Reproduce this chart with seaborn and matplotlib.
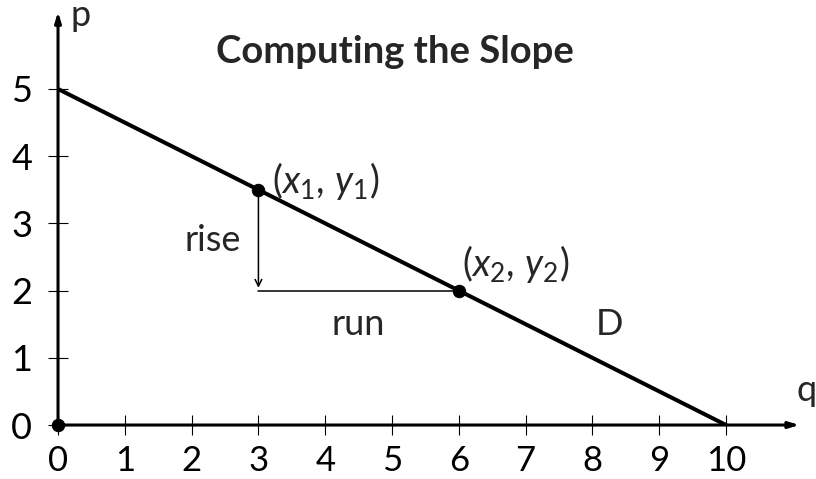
import numpy as np
import pandas as pd
import seaborn as sns
import matplotlib.pyplot as plt

# ======= Data =======
q_line = [0, 10]
p_line = [5, 0]
pt_q = [3, 6, 0]
pt_p = [3.5, 2, 0]
x_ticks = [0, 1, 2, 3, 4, 5, 6, 7, 8, 9, 10]
y_ticks = [0, 1, 2, 3, 4, 5]
title = "Computing the Slope"

sns.set_theme(style="white")
plt.rcParams['font.family'] = ['Lato', 'DejaVu Sans']
plt.rcParams['mathtext.fontset'] = 'custom'
plt.rcParams['mathtext.rm'] = 'Lato'
plt.rcParams['mathtext.it'] = 'Lato:italic'

fig = plt.figure(figsize=(8.16, 4.79), dpi=100)
ax = fig.add_axes([0.0711, 0.1127, 0.9087, 0.8629])

line_df = pd.DataFrame({"q": q_line, "p": p_line})
pts_df = pd.DataFrame({"q": pt_q, "p": pt_p})

sns.lineplot(data=line_df, x="q", y="p", color="black", linewidth=2.9, ax=ax)
sns.scatterplot(data=pts_df, x="q", y="p", color="black", s=80, zorder=5,
                edgecolor="black", ax=ax, clip_on=False)

# rise arrow and run line
ax.annotate("", xy=(pt_q[0], pt_p[1]), xytext=(pt_q[0], pt_p[0]),
            arrowprops=dict(arrowstyle="->", color="black", lw=1.1))
ax.plot([pt_q[0], pt_q[1]], [pt_p[1], pt_p[1]], color="black", lw=1.1)

ax.set_xlim(0, 11.1)
ax.set_ylim(0, 6.15)
for s in ax.spines.values():
    s.set_visible(False)

# axes with arrows
ax.annotate("", xy=(11.1, 0), xytext=(0, 0), annotation_clip=False,
            arrowprops=dict(arrowstyle="-|>,head_length=0.5,head_width=0.15",
                            color="black", lw=2.2, shrinkA=0, shrinkB=0))
ax.annotate("", xy=(0, 6.15), xytext=(0, 0), annotation_clip=False,
            arrowprops=dict(arrowstyle="-|>,head_length=0.5,head_width=0.15",
                            color="black", lw=2.2, shrinkA=0, shrinkB=0))

ax.set_xticks(x_ticks)
ax.set_yticks(y_ticks)
ax.set_xticklabels([str(t) for t in x_ticks])
ax.set_yticklabels([str(t) for t in y_ticks])
ax.tick_params(axis="x", direction="inout", length=15, width=0.8,
               colors="black", labelsize=25, pad=7, bottom=True)
ax.tick_params(axis="y", direction="inout", length=15, width=0.8,
               colors="black", labelsize=26, pad=11, left=True)
ax.set_xlabel("")
ax.set_ylabel("")

ax.text(0.18, 6.1, "p", fontsize=26, ha="left", va="center")
ax.text(11.06, 0.52, "q", fontsize=26, ha="left", va="center")
ax.text(5.05, 5.55, title, fontsize=27.5, fontweight="bold", ha="center", va="center")
ax.text(3.2, 3.63, r"$(x_1,\, y_1)$", fontsize=27, ha="left", va="center")
ax.text(6.05, 2.4, r"$(x_2,\, y_2)$", fontsize=27, ha="left", va="center")
ax.text(2.73, 2.75, "rise", fontsize=26, ha="right", va="center")
ax.text(4.49, 1.49, "run", fontsize=26, ha="center", va="center")
ax.text(8.26, 1.49, "D", fontsize=26, ha="center", va="center")

plt.savefig("out.png", dpi=100)
plt.close()
